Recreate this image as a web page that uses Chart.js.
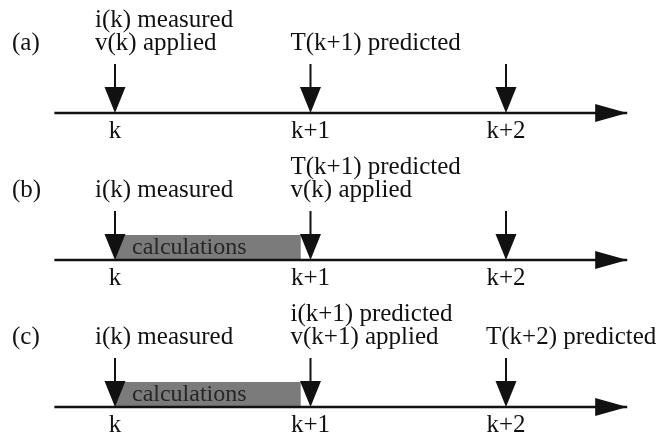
<!DOCTYPE html>
<html>
<head>
<meta charset="utf-8">
<script src="https://cdn.jsdelivr.net/npm/chart.js@4"></script>
<style>
  html, body { margin: 0; padding: 0; background: #fff; }
  #wrap { width: 671px; height: 439px; position: relative; }
</style>
</head>
<body>
<div id="wrap"><canvas id="timing-chart"></canvas></div>
<script>
// Sampling instants along each time axis
const stepLabels = ['k', 'k+1', 'k+2'];
const stepValues = [0, 1, 2];

// One timeline per panel
const panelNames = ['(a)', '(b)', '(c)'];
const panelRows = [0, 1, 2];

// Extent of each time axis, in sampling steps
const axisRange = [-0.31, 2.62];

// Notes above each instant, per panel
const notesA = [['i(k) measured', 'v(k) applied'], ['T(k+1) predicted'], []];
const notesB = [['i(k) measured'], ['T(k+1) predicted', 'v(k) applied'], []];
const notesC = [['i(k) measured'], ['i(k+1) predicted', 'v(k+1) applied'], ['T(k+2) predicted']];
const panelNotes = [notesA, notesB, notesC];

// Calculation interval per panel, in sampling steps
const calcSpans = [null, [0, 0.95], [0, 0.95]];
const calcLabel = 'calculations';

const INK = '#111';
const FONT = '25px "Liberation Serif", "Times New Roman", serif';

// Draw a downward arrow ending on the axis
function drawTick(ctx, px, py) {
    ctx.strokeStyle = INK;
    ctx.lineWidth = 2;
    ctx.beginPath();
    ctx.moveTo(px, py - 49);
    ctx.lineTo(px, py - 24);
    ctx.stroke();
    ctx.fillStyle = INK;
    ctx.beginPath();
    ctx.moveTo(px - 10.5, py - 26);
    ctx.lineTo(px + 10.5, py - 26);
    ctx.lineTo(px, py);
    ctx.closePath();
    ctx.fill();
}

const timelinePlugin = {
    id: 'timeline',
    beforeDatasetsDraw(chart) {
        const { ctx, scales: { x, y } } = chart;
        ctx.save();
        panelRows.forEach((row, p) => {
            const span = calcSpans[p];
            if (!span) return;
            const y0 = y.getPixelForValue(row);
            const x0 = x.getPixelForValue(span[0]);
            const x1 = x.getPixelForValue(span[1]);
            ctx.fillStyle = '#7b7b7b';
            ctx.fillRect(x0, y0 - 25, x1 - x0, 25);
            ctx.fillStyle = '#262626';
            ctx.font = '24px "Liberation Serif", "Times New Roman", serif';
            ctx.textAlign = 'left';
            ctx.textBaseline = 'middle';
            ctx.fillText(calcLabel, x0 + 17, y0 - 12);
        });
        ctx.restore();
    },
    afterDatasetsDraw(chart) {
        const { ctx, scales: { x, y } } = chart;
        ctx.save();
        panelRows.forEach((row, p) => {
            const y0 = y.getPixelForValue(row);

            // arrowhead at the end of the axis
            const xEnd = x.getPixelForValue(axisRange[1]);
            ctx.fillStyle = INK;
            ctx.beginPath();
            ctx.moveTo(xEnd, y0);
            ctx.lineTo(xEnd - 32, y0 - 9);
            ctx.lineTo(xEnd - 32, y0 + 9);
            ctx.closePath();
            ctx.fill();

            ctx.font = FONT;
            ctx.textBaseline = 'middle';

            // panel name
            ctx.textAlign = 'left';
            ctx.fillText(panelNames[p], 12, y0 - 70);

            stepValues.forEach((v, i) => {
                const px = x.getPixelForValue(v);
                drawTick(ctx, px, y0);

                ctx.fillStyle = INK;
                ctx.textAlign = 'center';
                ctx.fillText(stepLabels[i], px, y0 + 18);

                const lines = panelNotes[p][i];
                ctx.textAlign = 'left';
                lines.forEach((txt, j) => {
                    ctx.fillText(txt, px - 20, y0 - 70 - (lines.length - 1 - j) * 23);
                });
            });
        });
        ctx.restore();
    }
};

new Chart(document.getElementById('timing-chart'), {
    type: 'line',
    data: {
        datasets: panelRows.map(row => ({
            data: axisRange.map(v => ({ x: v, y: row })),
            borderColor: INK,
            borderWidth: 2.5,
            pointRadius: 0,
            fill: false
        }))
    },
    options: {
        responsive: true,
        maintainAspectRatio: false,
        animation: false,
        layout: { padding: 0 },
        plugins: {
            legend: { display: false },
            tooltip: { enabled: false }
        },
        scales: {
            x: { type: 'linear', min: -0.5882, max: 2.844, display: false },
            y: { type: 'linear', min: -0.7687, max: 2.2177, reverse: true, display: false }
        }
    },
    plugins: [timelinePlugin]
});
</script>
</body>
</html>
